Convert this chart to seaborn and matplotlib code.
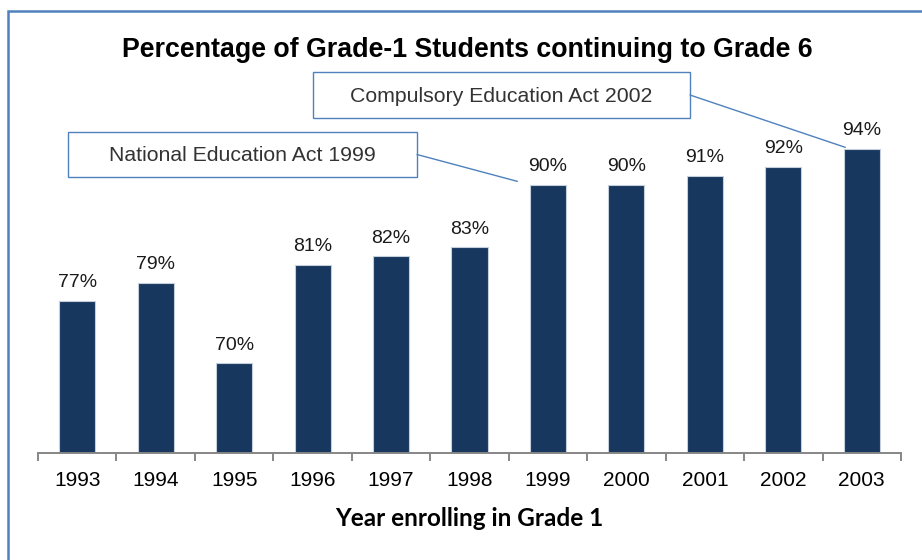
import matplotlib
matplotlib.use("Agg")
import matplotlib.pyplot as plt
from matplotlib.patches import Rectangle
from matplotlib.lines import Line2D
import seaborn as sns
import pandas as pd

years = ["1993", "1994", "1995", "1996", "1997", "1998",
         "1999", "2000", "2001", "2002", "2003"]
continuation_pct = [77, 79, 70, 81, 82, 83, 90, 90, 91, 92, 94]
value_labels = ["77%", "79%", "70%", "81%", "82%", "83%",
                "90%", "90%", "91%", "92%", "94%"]

title = "Percentage of Grade-1 Students continuing to Grade 6"
x_title = "Year enrolling in Grade 1"
notes = ["National Education Act 1999", "Compulsory Education Act 2002"]
note_years = ["1999", "2003"]

sns.set_theme(style="white")
plt.rcParams["font.family"] = ["Liberation Sans", "DejaVu Sans"]

W, H = 922, 560
fig = plt.figure(figsize=(W / 100, H / 100), dpi=100)


def fx(px):
    return px / W


def fy(py):
    return 1 - py / H


ax = fig.add_axes([fx(38), fy(453), fx(901) - fx(38), fy(95) - fy(453)])

df = pd.DataFrame({"year": years, "pct": continuation_pct})
bar_color = "#17375E"
sns.barplot(data=df, x="year", y="pct", order=years, color=bar_color,
            width=0.46, saturation=1, edgecolor="#c5cedb", linewidth=0.8,
            ax=ax)

ax.set_ylim(60, 100)
ax.set_xlim(-0.5, len(years) - 0.5)
ax.set_yticks([])
ax.set_ylabel("")
for side in ("left", "right", "top"):
    ax.spines[side].set_visible(False)
ax.spines["bottom"].set_color("#868686")
ax.spines["bottom"].set_linewidth(1.4)
ax.patch.set_alpha(0)

# tick marks sit between categories, labels under bar centres
ax.set_xticks(range(len(years)))
ax.set_xticklabels(years, fontsize=15, color="black")
ax.set_xticks([i - 0.5 for i in range(len(years) + 1)], minor=True)
ax.tick_params(axis="x", which="major", length=0, pad=13)
ax.tick_params(axis="x", which="minor", length=6, width=1.4,
               color="#868686", direction="out", bottom=True)

ax.set_xlabel(x_title, fontsize=17.5, fontweight="bold",
              family=["Lato", "DejaVu Sans"], color="black")
ax.xaxis.set_label_coords((469 - 38) / 863, -(519 - 453) / 358)
ax.xaxis.label.set_va("center")

for i, (v, lab) in enumerate(zip(continuation_pct, value_labels)):
    ax.annotate(lab, xy=(i, v), xytext=(0, 13), textcoords="offset points",
                ha="center", va="center", fontsize=14, color="#1a1a1a")

fig.text(fx(467), fy(50), title, ha="center", va="center",
         fontsize=19.3, fontweight="bold", color="black")

# callout boxes with leader lines to the bars
edge = "#4F81BD"
boxes = [(68, 132, 417, 177), (313, 72, 690, 118)]
targets = [(years.index(note_years[0]) - 0.39, 90.35),
           (years.index(note_years[1]) - 0.21, 94.15)]
fig.canvas.draw()
for (x0, y0, x1, y1), text, (tx, ty) in zip(boxes, notes, targets):
    fig.add_artist(Rectangle((fx(x0), fy(y1)), fx(x1) - fx(x0), fy(y0) - fy(y1),
                             transform=fig.transFigure, facecolor="white",
                             edgecolor=edge, linewidth=1.0))
    fig.text(fx((x0 + x1) / 2), fy((y0 + y1) / 2 + 1), text, ha="center",
             va="center", fontsize=15.3, color="#333333")
    dx, dy = ax.transData.transform((tx, ty))
    ex, ey = fig.transFigure.inverted().transform((dx, dy))
    fig.add_artist(Line2D([fx(x1), ex], [fy((y0 + y1) / 2), ey],
                          transform=fig.transFigure, color=edge, linewidth=1.0))

# outer frame
fig.add_artist(Rectangle((fx(8), fy(H + 20)), fx(W + 20), fy(11) - fy(H + 20),
                         transform=fig.transFigure, fill=False,
                         edgecolor=edge, linewidth=1.8, clip_on=False))

fig.savefig("out.png", dpi=100)
